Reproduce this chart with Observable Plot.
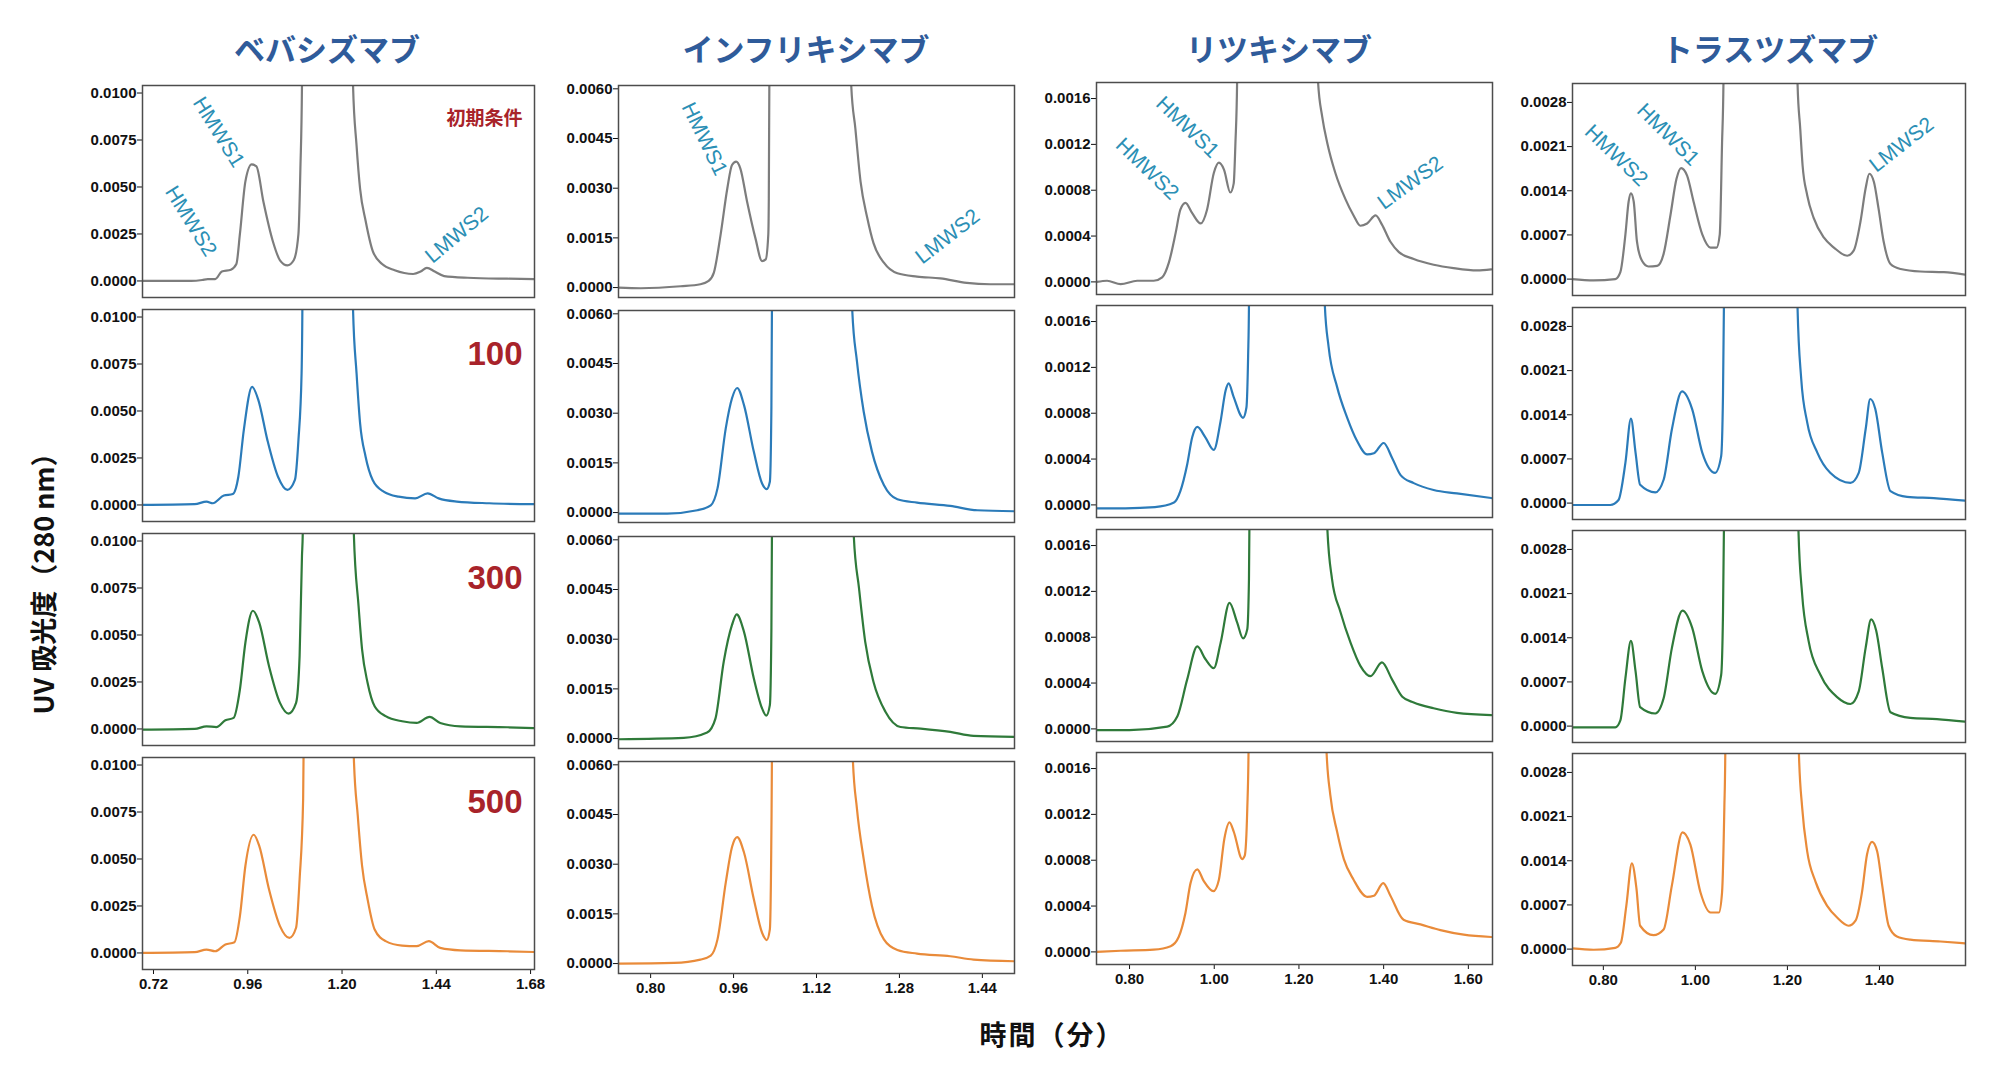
<!DOCTYPE html>
<html>
<head>
<meta charset="utf-8">
<script src="https://cdn.jsdelivr.net/npm/d3@7"></script>
<script src="https://cdn.jsdelivr.net/npm/@observablehq/plot@0.6"></script>
<style>
  html, body { margin: 0; padding: 0; background: #fff; }
  #chart { position: relative; width: 2000px; height: 1079px; background: #fff; overflow: hidden; }
  .title { position: absolute; text-align: center; font-family: "Noto Sans CJK JP", "Noto Sans", sans-serif; font-weight: 700; font-size: 31px; color: #2f5b9a; line-height: 44px; white-space: nowrap; transform: translateX(-50%); }
  .axis-title { position: absolute; font-family: "Noto Sans CJK JP", "Liberation Sans", sans-serif; font-weight: 700; color: #111; white-space: nowrap; }
  svg { position: absolute; overflow: visible; }
</style>
</head>
<body>
<div id="chart"></div>
<script>
// ---------------- DATA ----------------
const antibodies = ["ベバシズマブ", "インフリキシマブ", "リツキシマブ", "トラスツズマブ"];
const rowLabels = ["初期条件", "100", "300", "500"];
const xTitle = "時間（分）";
const yTitle = "UV 吸光度（280 nm）";

// tick values
const bevXTicks = [0.72, 0.96, 1.20, 1.44, 1.68];
const infXTicks = [0.80, 0.96, 1.12, 1.28, 1.44];
const ritXTicks = [0.80, 1.00, 1.20, 1.40, 1.60];
const traXTicks = [0.80, 1.00, 1.20, 1.40];
const bevYTicks = [0, 0.0025, 0.0050, 0.0075, 0.0100];
const infYTicks = [0, 0.0015, 0.0030, 0.0045, 0.0060];
const ritYTicks = [0, 0.0004, 0.0008, 0.0012, 0.0016];
const traYTicks = [0, 0.0007, 0.0014, 0.0021, 0.0028];

// chromatograms: [time (min), absorbance]; main peak runs off scale
const bevInit = [[0.692,0],[0.816,0],[0.844,0.00005],[0.858,0.0001],[0.877,0.0001],[0.894,0.0005],[0.917,0.0006],[0.931,0.0009],[0.940,0.0025],[0.954,0.0053],[0.970,0.0062],[0.982,0.0061],[1.000,0.0042],[1.024,0.0021],[1.042,0.0011],[1.061,0.00083],[1.077,0.0011],[1.089,0.0025],[1.094,0.006],[1.098,0.0104],[1.100,0.02],[1.226,0.02],[1.228,0.0104],[1.237,0.0072],[1.246,0.0049],[1.260,0.0032],[1.278,0.0016],[1.302,0.0009],[1.334,0.00057],[1.381,0.00037],[1.400,0.0005],[1.416,0.0007],[1.436,0.0005],[1.460,0.00026],[1.520,0.00017],[1.621,0.00012],[1.690,0.0001]];
const bev100 = [[0.692,0],[0.825,0.00004],[0.855,0.00018],[0.871,0.00009],[0.899,0.0005],[0.922,0.00058],[0.936,0.0015],[0.950,0.004],[0.971,0.00628],[0.987,0.00558],[1.010,0.00345],[1.037,0.0015],[1.061,0.0008],[1.080,0.00133],[1.089,0.00345],[1.097,0.007],[1.099,0.0104],[1.101,0.02],[1.226,0.02],[1.228,0.0104],[1.237,0.007],[1.246,0.00434],[1.260,0.00257],[1.278,0.00133],[1.306,0.00071],[1.344,0.00044],[1.386,0.00035],[1.418,0.00062],[1.446,0.00035],[1.492,0.00018],[1.575,0.00009],[1.690,0.00004]];
const bev300 = [[0.692,-0.00004],[0.825,0],[0.855,0.00014],[0.880,0.0001],[0.903,0.00046],[0.924,0.00059],[0.940,0.0021],[0.954,0.0046],[0.973,0.00629],[0.989,0.00567],[1.014,0.00335],[1.042,0.00139],[1.064,0.00082],[1.083,0.00139],[1.092,0.00389],[1.098,0.0092],[1.100,0.0104],[1.102,0.02],[1.228,0.02],[1.230,0.0104],[1.242,0.00656],[1.251,0.00424],[1.265,0.00246],[1.283,0.00121],[1.311,0.00068],[1.353,0.00041],[1.390,0.00032],[1.423,0.00064],[1.450,0.00032],[1.501,0.00014],[1.621,0.00009],[1.690,0.00004]];
const bev500 = [[0.692,0],[0.825,0.00004],[0.855,0.00018],[0.877,0.00009],[0.903,0.00045],[0.926,0.00057],[0.940,0.00196],[0.954,0.00464],[0.975,0.00629],[0.989,0.00571],[1.014,0.00339],[1.042,0.00143],[1.066,0.0008],[1.083,0.00134],[1.092,0.00393],[1.101,0.0082],[1.102,0.0104],[1.104,0.02],[1.228,0.02],[1.230,0.0104],[1.240,0.00732],[1.251,0.00464],[1.265,0.00286],[1.283,0.00125],[1.311,0.00063],[1.353,0.00039],[1.390,0.00036],[1.421,0.00063],[1.450,0.00027],[1.501,0.00014],[1.621,0.00009],[1.690,0.00005]];

const infInit = [[0.738,0],[0.781,-0.00002],[0.858,0.00004],[0.896,0.0001],[0.912,0.0002],[0.922,0.00045],[0.935,0.0016],[0.948,0.003],[0.957,0.0037],[0.965,0.0038],[0.973,0.0036],[0.986,0.0026],[1.002,0.0015],[1.015,0.0008],[1.022,0.00085],[1.027,0.0016],[1.028,0.0027],[1.029,0.0061],[1.030,0.012],[1.185,0.012],[1.187,0.0061],[1.195,0.0048],[1.205,0.0032],[1.218,0.0021],[1.230,0.00134],[1.250,0.00075],[1.276,0.00043],[1.314,0.00033],[1.359,0.00028],[1.410,0.00014],[1.455,0.0001],[1.502,0.0001]];
const inf100 = [[0.739,-0.00003],[0.832,-0.00003],[0.890,0.00007],[0.916,0.00022],[0.929,0.00073],[0.945,0.00255],[0.957,0.00345],[0.967,0.00376],[0.980,0.00325],[0.999,0.00184],[1.015,0.00088],[1.024,0.00071],[1.030,0.00093],[1.033,0.0032],[1.034,0.0061],[1.035,0.012],[1.187,0.012],[1.189,0.0061],[1.198,0.00457],[1.211,0.00305],[1.227,0.00184],[1.250,0.00083],[1.276,0.0004],[1.314,0.0003],[1.378,0.0002],[1.430,0.00007],[1.502,0.00004]];
const inf300 = [[0.739,-0.00002],[0.864,0.00002],[0.909,0.00018],[0.925,0.0006],[0.941,0.00232],[0.957,0.00343],[0.966,0.00375],[0.980,0.00323],[0.999,0.00182],[1.015,0.00091],[1.023,0.00069],[1.030,0.00101],[1.033,0.00333],[1.034,0.0061],[1.035,0.012],[1.190,0.012],[1.192,0.0061],[1.202,0.00454],[1.214,0.00292],[1.230,0.00171],[1.253,0.00081],[1.282,0.00035],[1.321,0.0003],[1.378,0.0002],[1.423,0.00008],[1.502,0.00005]];
const inf500 = [[0.738,0],[0.845,0.00002],[0.896,0.00012],[0.916,0.00024],[0.929,0.00073],[0.945,0.00245],[0.957,0.00352],[0.967,0.00382],[0.980,0.00336],[0.999,0.00195],[1.015,0.00093],[1.024,0.00071],[1.030,0.00103],[1.033,0.004],[1.034,0.0062],[1.035,0.012],[1.188,0.012],[1.190,0.0062],[1.198,0.00468],[1.211,0.00316],[1.227,0.00174],[1.250,0.00073],[1.276,0.00041],[1.314,0.0003],[1.378,0.00022],[1.423,0.00012],[1.502,0.00007]];

const ritInit = [[0.723,0],[0.747,0.00001],[0.779,-0.00002],[0.818,0.00001],[0.857,0.00001],[0.877,0.00004],[0.893,0.00017],[0.909,0.00043],[0.920,0.00063],[0.932,0.00069],[0.948,0.0006],[0.968,0.00051],[0.983,0.00063],[0.999,0.00095],[1.011,0.00104],[1.023,0.00098],[1.038,0.00078],[1.046,0.00086],[1.050,0.00121],[1.054,0.00175],[1.056,0.004],[1.243,0.004],[1.245,0.00175],[1.255,0.00144],[1.267,0.00121],[1.286,0.00095],[1.310,0.00072],[1.329,0.00058],[1.345,0.00049],[1.361,0.00051],[1.381,0.00058],[1.396,0.0005],[1.416,0.00035],[1.436,0.00026],[1.471,0.0002],[1.518,0.00015],[1.565,0.00012],[1.621,0.0001],[1.654,0.00011]];
const rit100 = [[0.723,-0.00003],[0.790,-0.00003],[0.860,-0.00002],[0.905,0.00002],[0.920,0.00012],[0.936,0.00035],[0.948,0.00059],[0.960,0.00068],[0.979,0.00059],[0.999,0.00048],[1.015,0.00073],[1.027,0.001],[1.034,0.00106],[1.046,0.00094],[1.068,0.00076],[1.076,0.00085],[1.080,0.0013],[1.082,0.00175],[1.084,0.004],[1.259,0.004],[1.261,0.00175],[1.270,0.00138],[1.290,0.00103],[1.314,0.00076],[1.337,0.00056],[1.361,0.00044],[1.377,0.00045],[1.400,0.00054],[1.420,0.00041],[1.440,0.00026],[1.471,0.00019],[1.518,0.00013],[1.573,0.0001],[1.654,0.00006]];
const rit300 = [[0.723,-0.00001],[0.800,-0.00001],[0.889,0.00002],[0.913,0.00011],[0.936,0.00043],[0.960,0.00072],[0.979,0.00061],[0.999,0.00053],[1.015,0.00075],[1.036,0.0011],[1.054,0.00093],[1.068,0.00079],[1.078,0.00087],[1.082,0.00131],[1.083,0.00175],[1.085,0.004],[1.265,0.004],[1.267,0.00175],[1.278,0.00131],[1.298,0.00102],[1.322,0.00075],[1.345,0.00055],[1.369,0.00046],[1.396,0.00058],[1.420,0.00043],[1.444,0.00028],[1.471,0.00023],[1.518,0.00018],[1.573,0.00014],[1.654,0.00012]];
const rit500 = [[0.723,0],[0.779,0.00001],[0.857,0.00002],[0.897,0.00005],[0.916,0.00013],[0.932,0.00034],[0.944,0.0006],[0.960,0.00072],[0.975,0.00062],[0.998,0.00053],[1.011,0.00063],[1.024,0.00099],[1.036,0.00113],[1.046,0.00105],[1.066,0.00081],[1.072,0.00084],[1.078,0.00125],[1.081,0.00176],[1.083,0.004],[1.263,0.004],[1.265,0.00176],[1.274,0.00137],[1.290,0.00105],[1.306,0.00081],[1.329,0.00063],[1.361,0.00048],[1.377,0.00049],[1.399,0.0006],[1.416,0.00049],[1.447,0.00028],[1.487,0.00024],[1.534,0.00019],[1.589,0.00015],[1.654,0.00013]];

const traInit = [[0.732,0],[0.779,-0.00002],[0.826,0],[0.837,0.00011],[0.848,0.00071],[0.855,0.00123],[0.860,0.00136],[0.866,0.00123],[0.873,0.0006],[0.884,0.00029],[0.898,0.0002],[0.917,0.00021],[0.931,0.0004],[0.946,0.00102],[0.959,0.00159],[0.969,0.00176],[0.982,0.00164],[0.996,0.00123],[1.015,0.00071],[1.033,0.0005],[1.046,0.0005],[1.053,0.00071],[1.058,0.00216],[1.061,0.0031],[1.063,0.006],[1.220,0.006],[1.222,0.0031],[1.228,0.00237],[1.233,0.0018],[1.243,0.00133],[1.257,0.00097],[1.279,0.00066],[1.301,0.0005],[1.330,0.00037],[1.344,0.00045],[1.359,0.00092],[1.370,0.00144],[1.378,0.00167],[1.388,0.00154],[1.398,0.00112],[1.409,0.0006],[1.424,0.00024],[1.446,0.00016],[1.489,0.00012],[1.540,0.00011],[1.587,0.00007]];
const tra100 = [[0.732,-0.00003],[0.815,-0.00003],[0.833,0.00005],[0.848,0.00064],[0.860,0.00134],[0.870,0.0008],[0.880,0.00029],[0.913,0.00017],[0.931,0.00037],[0.949,0.00117],[0.971,0.00177],[0.993,0.00149],[1.015,0.0008],[1.043,0.00048],[1.056,0.00074],[1.060,0.0017],[1.062,0.0031],[1.064,0.006],[1.220,0.006],[1.222,0.0031],[1.230,0.00197],[1.243,0.00128],[1.265,0.0008],[1.293,0.00048],[1.337,0.00032],[1.355,0.00048],[1.370,0.00117],[1.380,0.00165],[1.391,0.00149],[1.406,0.0008],[1.424,0.00019],[1.460,0.0001],[1.518,0.00008],[1.587,0.00004]];
const tra300 = [[0.732,-0.00002],[0.826,-0.00002],[0.837,0.00009],[0.848,0.00076],[0.860,0.00135],[0.870,0.00087],[0.880,0.0003],[0.913,0.0002],[0.931,0.00044],[0.949,0.00124],[0.972,0.00183],[0.993,0.00156],[1.015,0.00087],[1.043,0.00051],[1.056,0.00081],[1.060,0.00177],[1.062,0.0031],[1.064,0.006],[1.222,0.006],[1.224,0.0031],[1.232,0.00209],[1.246,0.00135],[1.272,0.00081],[1.308,0.00046],[1.337,0.00035],[1.355,0.00055],[1.370,0.00124],[1.382,0.00169],[1.393,0.00151],[1.406,0.00092],[1.424,0.00022],[1.467,0.00013],[1.525,0.00011],[1.587,0.00007]];
const tra500 = [[0.733,0.00001],[0.779,-0.00001],[0.826,0.00002],[0.838,0.0001],[0.850,0.00069],[0.862,0.00136],[0.872,0.00096],[0.880,0.00037],[0.909,0.00022],[0.931,0.00031],[0.949,0.00101],[0.972,0.00185],[0.989,0.00166],[1.011,0.0009],[1.033,0.00058],[1.051,0.00058],[1.058,0.0009],[1.063,0.00225],[1.065,0.0031],[1.067,0.006],[1.223,0.006],[1.225,0.0031],[1.232,0.00225],[1.243,0.00155],[1.261,0.00107],[1.286,0.00069],[1.308,0.0005],[1.333,0.00037],[1.348,0.00045],[1.362,0.0009],[1.373,0.0015],[1.384,0.0017],[1.395,0.00155],[1.406,0.00101],[1.420,0.00037],[1.438,0.0002],[1.467,0.00015],[1.533,0.00012],[1.587,0.00009]];

// peak annotations (first row only): [label, time, absorbance, angle]
const bevPeaks = [["HMWS1",0.886,0.00792,58],["HMWS2",0.815,0.00318,58],["LMWS2",1.492,0.00245,-40]];
const infPeaks = [["HMWS1",0.904,0.00449,64],["LMWS2",1.373,0.00154,-38]];
const ritPeaks = [["HMWS2",0.842,0.000986,44],["HMWS1",0.937,0.00135,44],["LMWS2",1.463,0.000865,-36]];
const traPeaks = [["HMWS2",0.828,0.00196,44],["HMWS1",0.941,0.00229,45],["LMWS2",1.448,0.00213,-38]];

// ---------------- LAYOUT / STYLE ----------------
const rowColors = ["#7d7d7d", "#2b7bb9", "#2f7a3a", "#e98b3a"];
const labelRed = "#a8232a";
const peakColor = "#2b8fb5";

const columns = [
  {name: antibodies[0], titleX: 327, left: 142, width: 392, tops: [85, 309, 533, 757], height: 212,
   xDomain: [0.692, 1.690], xTicks: bevXTicks, yDomain: [-0.00088, 0.0104], yTicks: bevYTicks,
   series: [bevInit, bev100, bev300, bev500], peaks: bevPeaks, showRowLabels: true},
  {name: antibodies[1], titleX: 806, left: 618, width: 396, tops: [85, 310, 536, 761], height: 212,
   xDomain: [0.738, 1.502], xTicks: infXTicks, yDomain: [-0.0003, 0.0061], yTicks: infYTicks,
   series: [infInit, inf100, inf300, inf500], peaks: infPeaks, showRowLabels: false},
  {name: antibodies[2], titleX: 1279, left: 1096, width: 396, tops: [82, 305, 529, 752], height: 212,
   xDomain: [0.722, 1.657], xTicks: ritXTicks, yDomain: [-0.00011, 0.00174], yTicks: ritYTicks,
   series: [ritInit, rit100, rit300, rit500], peaks: ritPeaks, showRowLabels: false},
  {name: antibodies[3], titleX: 1770, left: 1572, width: 393, tops: [83, 307, 530, 753], height: 212,
   xDomain: [0.733, 1.587], xTicks: traXTicks, yDomain: [-0.00026, 0.0031], yTicks: traYTicks,
   series: [traInit, tra100, tra300, tra500], peaks: traPeaks, showRowLabels: false}
];

const chart = document.getElementById("chart");
const mLeft = 80, mRight = 4, mTop = 2;

columns.forEach((c, ci) => {
  const t = document.createElement("div");
  t.className = "title";
  t.textContent = c.name;
  t.style.left = c.titleX + "px";
  t.style.top = "26px";
  chart.appendChild(t);

  c.series.forEach((s, r) => {
    const last = r === 3;
    const mBottom = last ? 40 : 2;
    const marks = [
      Plot.line(s, {x: d => d[0], y: d => d[1], stroke: rowColors[r], strokeWidth: 2.2,
                    curve: "monotone-x", clip: true}),
      Plot.frame({stroke: "#4d4d4d", strokeWidth: 1.5})
    ];
    if (r === 0) {
      marks.push(Plot.text(c.peaks, {x: d => d[1], y: d => d[2], text: d => d[0],
        rotate: d => d[3], fill: peakColor, fontSize: 21, fontWeight: "normal",
        fontFamily: "Liberation Sans, Arial, sans-serif", textAnchor: "middle"}));
    }
    if (c.showRowLabels) {
      const first = r === 0;
      marks.push(Plot.text([rowLabels[r]], {frameAnchor: "top-right", text: d => d,
        dx: -12, dy: first ? 26 : 32, fill: labelRed, fontWeight: "bold",
        fontSize: first ? 19 : 33, textAnchor: "end",
        fontFamily: first ? "Noto Sans CJK JP, sans-serif" : "Liberation Sans, Arial, sans-serif"}));
    }
    const svg = Plot.plot({
      width: mLeft + c.width + mRight,
      height: mTop + c.height + mBottom,
      marginLeft: mLeft, marginRight: mRight, marginTop: mTop, marginBottom: mBottom,
      x: {domain: c.xDomain, ticks: c.xTicks, tickFormat: d => d.toFixed(2), tickSize: 5,
          tickPadding: 4, label: null, axis: last ? "bottom" : null},
      y: {domain: c.yDomain, ticks: c.yTicks, tickFormat: d => d.toFixed(4), tickSize: 5,
          tickPadding: 1, label: null},
      style: {fontSize: "15px", fontWeight: "bold", fontFamily: "Liberation Sans, Arial, sans-serif",
              color: "#111", background: "transparent", overflow: "visible"},
      marks
    });
    svg.style.position = "absolute";
    svg.style.left = (c.left - mLeft) + "px";
    svg.style.top = (c.tops[r] - mTop) + "px";
    svg.style.maxWidth = "none";
    chart.appendChild(svg);
  });
});

const yt = document.createElement("div");
yt.className = "axis-title";
yt.textContent = yTitle;
yt.style.fontSize = "27px";
yt.style.left = "42px";
yt.style.top = "577px";
yt.style.transform = "translate(-50%, -50%) rotate(-90deg)";
chart.appendChild(yt);

const xt = document.createElement("div");
xt.className = "axis-title";
xt.textContent = xTitle;
xt.style.fontSize = "27px";
xt.style.letterSpacing = "2px";
xt.style.left = "1052px";
xt.style.top = "1033px";
xt.style.transform = "translate(-50%, -50%)";
chart.appendChild(xt);
</script>
</body>
</html>
